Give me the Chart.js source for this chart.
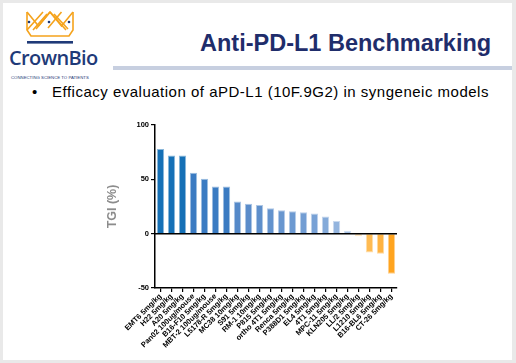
<!DOCTYPE html>
<html><head><meta charset="utf-8">
<script src="https://cdn.jsdelivr.net/npm/chart.js@4"></script>
<style>
html,body{margin:0;padding:0;}
body{width:516px;height:363px;background:#e9e9e9;position:relative;overflow:hidden;font-family:"Liberation Sans",Arial,sans-serif;}
#slide{position:absolute;left:3px;top:3px;width:509px;height:357px;background:#fff;}
.abs{position:absolute;white-space:nowrap;}
</style></head><body>
<div id="slide"></div>
<svg class="abs" style="left:0;top:0" width="100" height="50" viewBox="0 0 100 50">
  <g fill="none" stroke="#f5a31c" stroke-width="1.6" stroke-linejoin="miter">
    <path d="M27,12 L27,30 L31,36 L69,36 L73,30 L73,12"/>
    <path d="M27,12 L38.5,26 L50,12 L61.5,26 L73,12"/>
    <path d="M27,30 L43,12 M33,30 L47,14 M50,12 L66,30 M54,14 L68,29"/>
    <path d="M50,12 L36,29 M61.5,12 L48,28"/>
  </g>
  <circle cx="29" cy="22" r="1.3" fill="#1f3a78"/>
  <circle cx="49" cy="22" r="1.3" fill="#1f3a78"/>
  <circle cx="69" cy="22" r="1.3" fill="#1f3a78"/>
  <rect x="27" y="41" width="46" height="2.6" fill="#1f3a78"/>
</svg>
<div class="abs" style="left:9px;top:44px;font-family:'Open Sans',sans-serif;font-weight:600;font-size:20px;color:#1f3a78;letter-spacing:-0.6px;">CrownBio</div>
<div class="abs" style="left:11px;top:75px;font-size:4.3px;color:#1f3a78;">CONNECTING SCIENCE TO PATIENTS</div>
<div class="abs" style="left:200px;top:30px;font-size:23.5px;font-weight:bold;color:#1f2d6b;">Anti-PD-L1 Benchmarking</div>
<div class="abs" style="left:113px;top:66px;width:399px;height:4px;background:#c7cfe0;"></div>
<div class="abs" style="left:32px;top:83px;font-size:15px;color:#000;">•</div>
<div class="abs" style="left:52px;top:83px;font-size:15px;letter-spacing:0.5px;color:#000;">Efficacy evaluation of aPD-L1 (10F.9G2) in syngeneic models</div>
<div class="abs" style="left:100px;top:115px;width:310px;height:248px;"><canvas id="c" width="310" height="248"></canvas></div>
<script>
const categories = ["EMT6 5mg/kg","H22 5mg/kg","A20 5mg/kg","Pan02 100ug/mouse","B16-F10 5mg/kg","MBT-2 100ug/mouse","L5178-R 5mg/kg","MC38 10mg/kg","S91 5mg/kg","RM-1 10mg/kg","P815 5mg/kg","ortho 4T1 5mg/kg","Renca 5mg/kg","P388D1 5mg/kg","EL4 5mg/kg","4T1 5mg/kg","MPC-11 5mg/kg","KLN205 5mg/kg","LL/2 5mg/kg","L1210 5mg/kg","B16-BL6 5mg/kg","CT-26 5mg/kg"];
const tgiValues = [78,72,72,56,50.5,43.3,43.3,29.5,27.5,26.4,23.5,21.5,20.6,19.6,18.5,15.7,11.7,2.6,-2.4,-17.3,-18.5,-37];
const yTicks = [100,50,0,-50];
const barColors = ["#1570b6","#1570b6","#1570b6","#3a7bc2","#3a7bc2","#3a7bc2","#3a7bc2","#5589c8","#5a8cca","#5e8fcb","#6292cd","#6896cf","#6c99d1","#729dd3","#78a1d5","#84aad9","#93b4de","#a6c1e5","#ffd596","#ffbb52","#ffb341","#ffa41f"];
const borderColors = barColors.map(c => c + "80");
const zeroLine = {
  id:'zeroLine',
  afterDatasetsDraw(chart){
    const y = chart.scales.y, a = chart.chartArea, ctx = chart.ctx;
    const py = y.getPixelForValue(0);
    ctx.save(); ctx.strokeStyle='#000'; ctx.lineWidth=1.5;
    ctx.beginPath(); ctx.moveTo(a.left, py); ctx.lineTo(a.right, py); ctx.stroke(); ctx.restore();
  }
};
new Chart(document.getElementById('c'), {
  type:'bar',
  data:{labels:categories, datasets:[{data:tgiValues, backgroundColor:barColors, borderColor:borderColors, borderWidth:1, barPercentage:0.66, categoryPercentage:1}]},
  options:{
    responsive:false, animation:false,
    layout:{padding:{top:10,right:13,left:0,bottom:0}},
    plugins:{legend:{display:false}, tooltip:{enabled:false}},
    scales:{
      x:{
        grid:{display:true, drawOnChartArea:false, drawTicks:true, tickLength:4, tickColor:'#000', offset:false, lineWidth:1.2},
        border:{display:true,color:'#000',width:1.5},
        ticks:{autoSkip:false, minRotation:45, maxRotation:45, padding:0, color:'#000', font:{family:'"Liberation Sans", Arial', size:7.5, weight:'bold'}},
        afterFit(s){ s.height = 75; }
      },
      y:{
        min:-50, max:100,
        afterBuildTicks(s){ s.ticks = yTicks.map(v => ({value:v})); },
        grid:{display:true, drawOnChartArea:false, drawTicks:true, tickLength:4, tickColor:'#000', lineWidth:1.2},
        border:{display:true,color:'#000',width:1.5},
        ticks:{padding:2, color:'#000', font:{family:'"Liberation Sans", Arial', size:7.5, weight:'bold'}},
        title:{display:true, text:'TGI (%)', color:'#8c8c8c', padding:{top:5,bottom:0}, font:{family:'"Liberation Sans", Arial', size:12.5, weight:'bold'}},
        afterFit(s){ s.width = 55; }
      }
    }
  },
  plugins:[zeroLine]
});
</script>
</body></html>
